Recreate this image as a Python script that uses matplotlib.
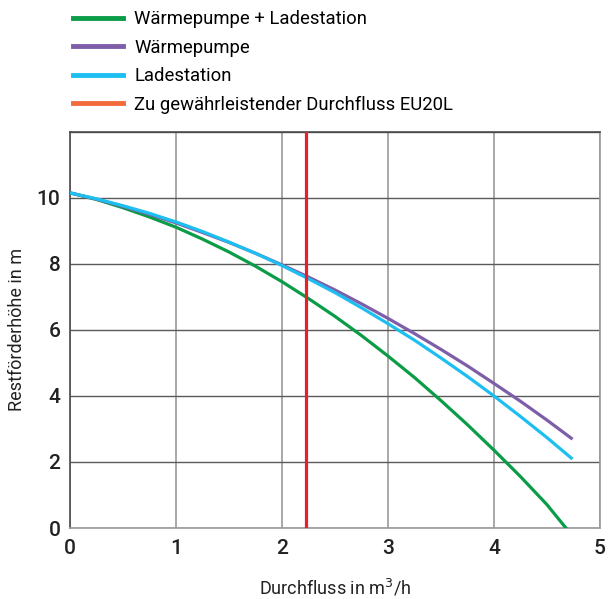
import matplotlib.pyplot as plt
from matplotlib.lines import Line2D

# Durchfluss in m3/h
flow = [0.0, 0.25, 0.5, 0.75, 1.0, 1.25, 1.5, 1.75, 2.0, 2.25, 2.5, 2.75,
        3.0, 3.25, 3.5, 3.75, 4.0, 4.25, 4.5, 4.68]
flow_end = [0.0, 0.25, 0.5, 0.75, 1.0, 1.25, 1.5, 1.75, 2.0, 2.25, 2.5, 2.75,
            3.0, 3.25, 3.5, 3.75, 4.0, 4.25, 4.5, 4.73]

# Restförderhöhe in m
head_wp_ls = [10.15, 9.95, 9.70, 9.42, 9.11, 8.75, 8.36, 7.93, 7.46, 6.95,
              6.41, 5.83, 5.21, 4.56, 3.86, 3.13, 2.36, 1.56, 0.71, 0.0]
head_wp = [10.15, 9.96, 9.74, 9.50, 9.24, 8.95, 8.65, 8.32, 7.97, 7.60,
           7.21, 6.79, 6.35, 5.89, 5.41, 4.91, 4.38, 3.84, 3.27, 2.72]
head_ls = [10.15, 9.97, 9.76, 9.53, 9.27, 8.98, 8.66, 8.32, 7.95, 7.55,
           7.13, 6.67, 6.19, 5.69, 5.15, 4.59, 4.00, 3.38, 2.74, 2.12]

required_flow = 2.23

labels = ["Wärmepumpe + Ladestation", "Wärmepumpe", "Ladestation",
          "Zu gewährleistender Durchfluss EU20L"]
colors = ["#0b9c48", "#7e5ea9", "#1dbff0", "#f36b3c"]
red = "#e8202c"
txt = "#222222"

fig = plt.figure(figsize=(6.14, 5.99), dpi=100)
ax = fig.add_axes([0.114, 0.1185, 0.863, 0.6615])

ax.plot(flow, head_wp_ls, color=colors[0], lw=2.3, zorder=3)
ax.plot(flow_end, head_wp, color=colors[1], lw=2.3, zorder=3)
ax.plot(flow_end, head_ls, color=colors[2], lw=2.3, zorder=4)
ax.axvline(required_flow, color=red, lw=2.3, zorder=5)

ax.set_xlim(0, 5)
ax.set_ylim(0, 12)
ax.set_xticks(range(0, 6))
ax.set_yticks(range(0, 13, 2))
ax.set_yticklabels([str(v) for v in range(0, 11, 2)] + [""])

ax.xaxis.grid(True, color="#9a9a9a", lw=1.2)
ax.yaxis.grid(True, color="#5a5a5a", lw=1.0)
ax.set_axisbelow(True)
for s in ["top", "left"]:
    ax.spines[s].set_color("#4a4a4a")
    ax.spines[s].set_linewidth(1.2)
for s in ["bottom", "right"]:
    ax.spines[s].set_color("#9a9a9a")
    ax.spines[s].set_linewidth(1.2)

ax.tick_params(axis="x", length=0, pad=8, labelsize=15, labelcolor=txt)
ax.tick_params(axis="y", length=0, pad=7, labelsize=15, labelcolor=txt)
for lab in ax.get_xticklabels() + ax.get_yticklabels():
    lab.set_family("Roboto")
    lab.set_fontweight("medium")

ax.set_xlabel("Durchfluss in m$^3$/h", fontsize=13, family="Roboto", color=txt)
ax.xaxis.set_label_coords(0.5, -0.125)
ax.set_ylabel("Restförderhöhe in m", fontsize=13, family="Roboto", color=txt)
ax.yaxis.set_label_coords(-0.083, 0.5)

handles = [Line2D([], [], color=c, lw=3.5) for c in colors]
fig.legend(handles, labels, loc="upper left", bbox_to_anchor=(0.092, 1.011),
           frameon=False, handlelength=2.7, handletextpad=0.6,
           labelspacing=0.57, prop={"family": "Roboto", "size": 13.3})

fig.savefig("out.png", dpi=100)
